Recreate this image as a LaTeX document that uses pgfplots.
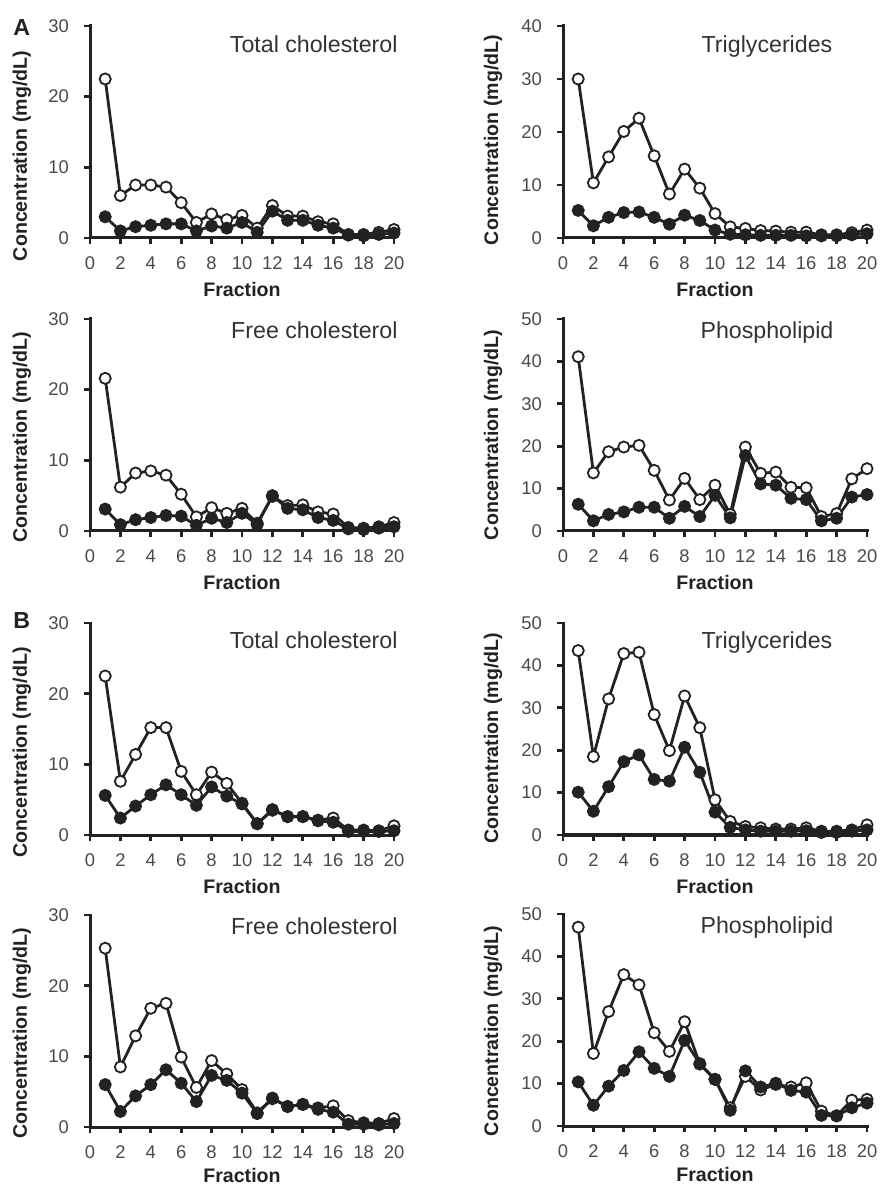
\documentclass[border=0pt]{standalone}
\usepackage{fontspec}
\setmainfont{Liberation Sans}
\usepackage{pgfplots}
\pgfplotsset{compat=1.18}

\definecolor{ink}{HTML}{222222}
\definecolor{tickgrey}{HTML}{4A4A4A}
\definecolor{titlegrey}{HTML}{333333}

\pgfplotsset{
  panel/.style={
    scale only axis, width=152pt, height=106pt,
    anchor=north west,
    axis lines*=left,
    axis line style={line width=1.5pt, ink, line cap=rect},
    xmin=0, xmax=20, ymin=0,
    xtick={0,2,...,20},
    tick align=outside,
    major tick length=3pt,
    tick style={line width=1.4pt, ink},
    tick label style={font=\fontsize{9.2}{11}\selectfont, text=tickgrey},
    /pgf/number format/assume math mode=true,
    yticklabel style={xshift=-4pt},
    xticklabel style={yshift=-3pt},
    clip=false,
    xlabel={Fraction},
    ylabel={Concentration (mg/dL)},
    label style={font=\bfseries\fontsize{9.8}{11}\selectfont, text=ink},
    xlabel style={at={(axis description cs:0.5,-0.276)}, anchor=base},
  },
  lowrow/.style={xlabel style={at={(axis description cs:0.5,-0.262)}}},
  ylab/.style={ylabel style={at={(axis description cs:#1)}, anchor=center, rotate=0}},
  openser/.style={line width=1.4pt, ink, mark=*, mark size=2.8pt,
    mark options={fill=white, draw=ink, line width=0.9pt}},
  fillser/.style={line width=1.4pt, ink, mark=*, mark size=2.8pt,
    mark options={fill=ink, draw=ink, line width=0.9pt}},
}
\tikzset{ttl/.style={font=\fontsize{11.6}{13}\selectfont, text=titlegrey, inner sep=0pt}}

\begin{document}
\begin{tikzpicture}
\useasboundingbox (0,0) rectangle (439.5pt,-593pt);

% ---------- A ----------
\node[anchor=base west, inner sep=0pt, font=\bfseries\fontsize{11.6}{13}\selectfont, text=ink] at (6.5pt,-18pt) {A};

\begin{axis}[panel, at={(45pt,-13pt)}, ymax=30, ytick={0,10,20,30}, ylab={-0.224,0.387}]
\addplot[openser] coordinates {(1,22.5)(2,6.0)(3,7.5)(4,7.5)(5,7.2)(6,5.0)(7,2.2)(8,3.4)(9,2.6)(10,3.2)(11,1.4)(12,4.6)(13,3.1)(14,3.1)(15,2.3)(16,2.0)(17,0.5)(18,0.5)(19,0.8)(20,1.2)};
\addplot[fillser] coordinates {(1,3.0)(2,1.0)(3,1.6)(4,1.8)(5,2.0)(6,2.0)(7,1.0)(8,1.7)(9,1.4)(10,2.2)(11,0.8)(12,3.8)(13,2.5)(14,2.5)(15,1.8)(16,1.4)(17,0.4)(18,0.3)(19,0.5)(20,0.7)};
\node[anchor=base east, ttl] at (axis description cs:1.013,0.873) {Total cholesterol};
\end{axis}

\begin{axis}[panel, at={(281.5pt,-13pt)}, ymax=40, ytick={0,10,20,30,40}, ylab={-0.230,0.462}]
\addplot[openser] coordinates {(1,30.0)(2,10.4)(3,15.3)(4,20.1)(5,22.6)(6,15.5)(7,8.3)(8,13.0)(9,9.4)(10,4.6)(11,2.1)(12,1.8)(13,1.4)(14,1.3)(15,1.1)(16,1.1)(17,0.6)(18,0.6)(19,1.0)(20,1.5)};
\addplot[fillser] coordinates {(1,5.2)(2,2.3)(3,3.9)(4,4.8)(5,4.9)(6,3.9)(7,2.6)(8,4.3)(9,3.3)(10,1.5)(11,0.7)(12,0.6)(13,0.5)(14,0.5)(15,0.5)(16,0.4)(17,0.4)(18,0.4)(19,0.6)(20,0.8)};
\node[anchor=base, ttl] at (axis description cs:0.671,0.877) {Triglycerides};
\end{axis}

\begin{axis}[panel, at={(45pt,-159.5pt)}, ymax=30, ytick={0,10,20,30}, ylab={-0.224,0.443}]
\addplot[openser] coordinates {(1,21.6)(2,6.2)(3,8.2)(4,8.5)(5,7.9)(6,5.2)(7,2.0)(8,3.3)(9,2.5)(10,3.2)(11,1.1)(12,4.9)(13,3.6)(14,3.7)(15,2.7)(16,2.4)(17,0.5)(18,0.4)(19,0.6)(20,1.2)};
\addplot[fillser] coordinates {(1,3.1)(2,0.9)(3,1.6)(4,1.9)(5,2.2)(6,2.1)(7,0.8)(8,1.8)(9,1.2)(10,2.5)(11,0.9)(12,5.0)(13,3.2)(14,3.0)(15,1.9)(16,1.5)(17,0.3)(18,0.2)(19,0.4)(20,0.6)};
\node[anchor=base east, ttl] at (axis description cs:1.013,0.91) {Free cholesterol};
\end{axis}

\begin{axis}[panel, at={(281.5pt,-159.5pt)}, ymax=50, ytick={0,10,20,30,40,50}, ylab={-0.230,0.453}]
\addplot[openser] coordinates {(1,41.1)(2,13.7)(3,18.7)(4,19.8)(5,20.2)(6,14.3)(7,7.3)(8,12.4)(9,7.4)(10,10.8)(11,3.9)(12,19.8)(13,13.6)(14,13.9)(15,10.3)(16,10.2)(17,3.4)(18,4.1)(19,12.3)(20,14.7)};
\addplot[fillser] coordinates {(1,6.3)(2,2.4)(3,3.9)(4,4.5)(5,5.6)(6,5.6)(7,3.0)(8,5.8)(9,3.4)(10,8.4)(11,3.1)(12,17.8)(13,11.1)(14,10.8)(15,7.7)(16,7.4)(17,2.4)(18,3.0)(19,8.0)(20,8.6)};
\node[anchor=base, ttl] at (axis description cs:0.671,0.91) {Phospholipid};
\end{axis}

% ---------- B ----------
\node[anchor=base west, inner sep=0pt, font=\bfseries\fontsize{11.6}{13}\selectfont, text=ink] at (6.5pt,-314pt) {B};

\begin{axis}[panel, at={(45pt,-311.5pt)}, ymax=30, ytick={0,10,20,30}, ylab={-0.224,0.39}]
\addplot[openser] coordinates {(1,22.5)(2,7.6)(3,11.4)(4,15.2)(5,15.2)(6,9.0)(7,5.7)(8,8.9)(9,7.3)(10,4.5)(11,1.6)(12,3.5)(13,2.6)(14,2.6)(15,2.1)(16,2.4)(17,0.7)(18,0.7)(19,0.6)(20,1.3)};
\addplot[fillser] coordinates {(1,5.6)(2,2.4)(3,4.1)(4,5.7)(5,7.1)(6,5.7)(7,4.2)(8,6.8)(9,5.5)(10,4.4)(11,1.6)(12,3.6)(13,2.6)(14,2.6)(15,2.0)(16,1.8)(17,0.5)(18,0.5)(19,0.5)(20,0.6)};
\node[anchor=base east, ttl] at (axis description cs:1.013,0.882) {Total cholesterol};
\end{axis}

\begin{axis}[panel, at={(281.5pt,-311.5pt)}, ymax=50, ytick={0,10,20,30,40,50}, ylab={-0.230,0.457}]
\addplot[openser] coordinates {(1,43.5)(2,18.5)(3,32.1)(4,42.8)(5,43.1)(6,28.4)(7,19.9)(8,32.8)(9,25.3)(10,8.3)(11,3.2)(12,2.0)(13,1.7)(14,1.4)(15,1.4)(16,1.7)(17,0.9)(18,0.9)(19,1.2)(20,2.4)};
\addplot[fillser] coordinates {(1,10.1)(2,5.6)(3,11.4)(4,17.3)(5,18.9)(6,13.1)(7,12.7)(8,20.7)(9,14.8)(10,5.4)(11,1.8)(12,1.2)(13,0.9)(14,0.9)(15,0.9)(16,1.0)(17,0.6)(18,0.6)(19,0.9)(20,1.2)};
\node[anchor=base, ttl] at (axis description cs:0.671,0.882) {Triglycerides};
\end{axis}

\begin{axis}[panel, lowrow, at={(45pt,-457.5pt)}, ymax=30, ytick={0,10,20,30}, ylab={-0.224,0.443}]
\addplot[openser] coordinates {(1,25.3)(2,8.5)(3,12.9)(4,16.8)(5,17.5)(6,9.9)(7,5.6)(8,9.4)(9,7.5)(10,5.3)(11,2.0)(12,4.1)(13,2.9)(14,3.2)(15,2.7)(16,3.0)(17,0.9)(18,0.6)(19,0.5)(20,1.2)};
\addplot[fillser] coordinates {(1,6.0)(2,2.2)(3,4.4)(4,6.0)(5,8.1)(6,6.2)(7,3.6)(8,7.3)(9,6.6)(10,4.8)(11,1.9)(12,4.0)(13,2.9)(14,3.2)(15,2.5)(16,2.1)(17,0.4)(18,0.4)(19,0.3)(20,0.5)};
\node[anchor=base east, ttl] at (axis description cs:1.013,0.91) {Free cholesterol};
\end{axis}

\begin{axis}[panel, lowrow, at={(281.5pt,-457pt)}, ymax=50, ytick={0,10,20,30,40,50}, ylab={-0.230,0.448}]
\addplot[openser] coordinates {(1,46.9)(2,17.1)(3,27.0)(4,35.7)(5,33.3)(6,22.0)(7,17.6)(8,24.6)(9,14.6)(10,11.0)(11,4.3)(12,11.7)(13,8.5)(14,9.8)(15,9.2)(16,10.2)(17,3.5)(18,2.4)(19,6.1)(20,6.3)};
\addplot[fillser] coordinates {(1,10.4)(2,4.9)(3,9.4)(4,13.1)(5,17.5)(6,13.6)(7,11.7)(8,20.2)(9,14.7)(10,11.0)(11,3.7)(12,13.0)(13,9.2)(14,10.1)(15,8.4)(16,8.0)(17,2.5)(18,2.4)(19,4.3)(20,5.4)};
\node[anchor=base, ttl] at (axis description cs:0.671,0.906) {Phospholipid};
\end{axis}
\end{tikzpicture}
\end{document}
